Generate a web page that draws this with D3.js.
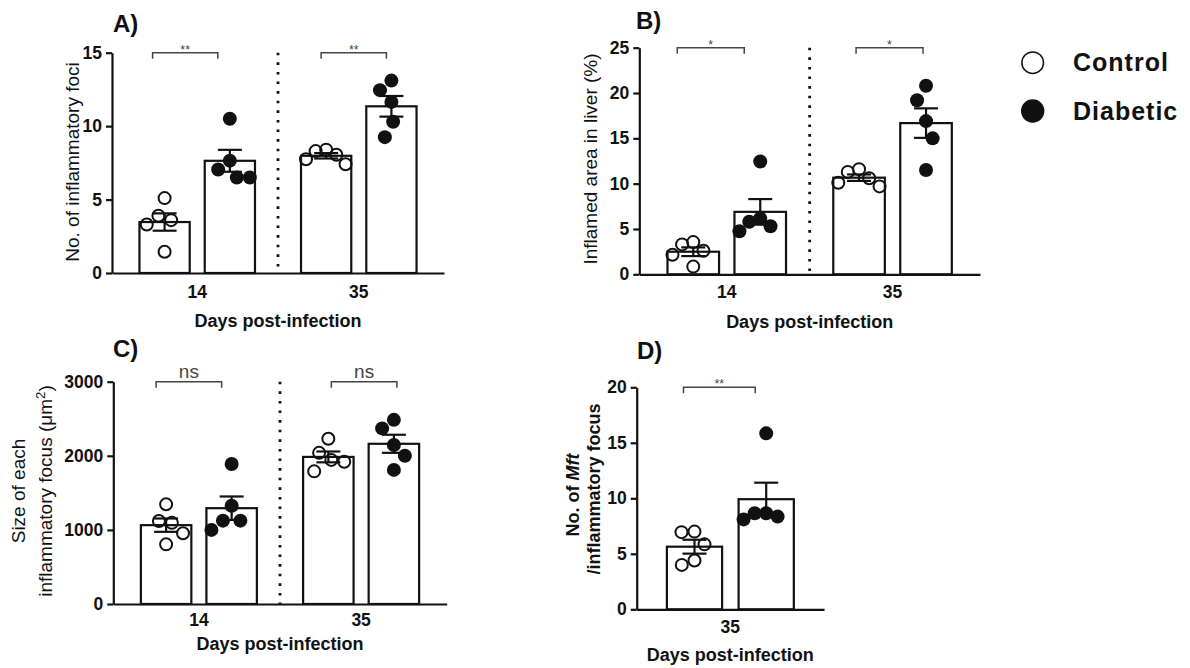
<!DOCTYPE html>
<html>
<head>
<meta charset="utf-8">
<script src="https://cdn.jsdelivr.net/npm/d3@7"></script>
<style>
  body { margin: 0; background: #fff; }
  svg { display: block; font-family: "Liberation Sans", Arial, sans-serif; }
</style>
</head>
<body>
<svg id="fig" width="1190" height="668"></svg>
<script>
// ---- data -------------------------------------------------------------
const days = ["14", "35"];
const daysLate = ["35"];
const groups = ["Control", "Diabetic"];

// A) number of inflammatory foci, per mouse
const fociControl  = [[5.1, 3.6, 3.3, 3.9, 1.45], [8.4, 8.05, 7.4, 7.75, 8.3]];
const fociDiabetic = [[10.5, 7.05, 6.5, 6.5, 7.65], [13.1, 12.45, 11.65, 10.3, 9.25]];
const fociTicks = [0, 5, 10, 15];

// B) inflamed area in liver (%)
const areaControl  = [[3.55, 3.3, 2.6, 2.15, 0.85], [11.6, 11.3, 10.6, 10.1, 9.7]];
const areaDiabetic = [[12.45, 5.8, 4.75, 5.3, 6.15], [20.8, 19.2, 16.9, 15.0, 11.5]];
const areaTicks = [0, 5, 10, 15, 20, 25];

// C) size of each inflammatory focus (µm²)
const sizeControl  = [[1345, 1120, 1095, 955, 805], [2230, 2040, 1945, 1920, 1790]];
const sizeDiabetic = [[1890, 1325, 1125, 1125, 1000], [2485, 2370, 2145, 2000, 1810]];
const sizeTicks = [0, 1000, 2000, 3000];

// D) Mft per inflammatory focus
const mftControl  = [[6.95, 7.0, 5.85, 4.0, 4.4]];
const mftDiabetic = [[15.85, 8.65, 8.1, 8.35, 8.65]];
const mftTicks = [0, 5, 10, 15, 20];

const sigA = ["**", "**"];
const sigB = ["*", "*"];
const sigC = ["ns", "ns"];
const sigD = ["**"];

// ---- drawing ----------------------------------------------------------
const svg = d3.select("#fig");
const INK = "#111";
const GREY = "#444";

// horizontal spread of dots: values that would collide are pushed sideways,
// alternating left/right, then squeezed to stay inside the bar
function spread(vals, y, limit) {
  const DX = 13, DY = 20;
  const order = d3.range(vals.length).sort((a, b) => vals[b] - vals[a]);
  const placed = [];
  const dx = new Array(vals.length).fill(0);
  let lastSide = 1;
  const hits = (c, py) => placed.some(p => {
    const ey = (p.y - py) / DY, ex = (p.x - c) / DX;
    return ex * ex + ey * ey < 0.999;
  });
  for (const i of order) {
    const py = y(vals[i]);
    const cands = [0];
    for (const p of placed) {
      const d = Math.abs(p.y - py);
      if (d < DY) {
        const need = DX * Math.sqrt(1 - (d / DY) * (d / DY)) + 0.01;
        cands.push(p.x + need, p.x - need);
      }
    }
    const ok = cands.filter(c => !hits(c, py));
    ok.sort((a, b) => {
      const da = Math.round(Math.abs(a) * 2), db = Math.round(Math.abs(b) * 2);
      if (da !== db) return da - db;
      return (Math.sign(a) === -lastSide ? -1 : 1) - (Math.sign(b) === -lastSide ? -1 : 1);
    });
    const x = ok[0];
    if (x !== 0) lastSide = Math.sign(x);
    dx[i] = x;
    placed.push({ x, y: py });
  }
  const widest = d3.max(dx, Math.abs);
  const k = widest > limit ? limit / widest : 1;
  return dx.map(v => v * k);
}

function panel(cfg) {
  const g = svg.append("g");
  const y = d3.scaleLinear().domain([0, d3.max(cfg.ticks)]).range([cfg.y0, cfg.y1]);
  const xg = d3.scaleBand().domain(cfg.cats).range([cfg.x0, cfg.x1])
    .paddingInner(0.285).paddingOuter(0.17);
  const xs = d3.scaleBand().domain(groups).range([0, xg.bandwidth()]).paddingInner(0.23);
  const bw = xs.bandwidth();

  // dotted separator between time points
  if (cfg.cats.length > 1) {
    const xm = (xg(cfg.cats[0]) + xg.bandwidth() + xg(cfg.cats[1])) / 2;
    g.append("line").attr("x1", xm).attr("x2", xm)
      .attr("y1", y(d3.max(cfg.ticks))).attr("y2", cfg.y0)
      .attr("stroke", INK).attr("stroke-width", 2.8)
      .attr("stroke-dasharray", "2.6 7");
  }

  cfg.cats.forEach((cat, ci) => {
    const sets = [cfg.control[ci], cfg.diabetic[ci]];
    sets.forEach((vals, si) => {
      const left = xg(cat) + xs(groups[si]);
      const cx = left + bw / 2;
      const m = d3.mean(vals);
      const sem = d3.deviation(vals) / Math.sqrt(vals.length);

      g.append("rect")
        .attr("x", left).attr("width", bw)
        .attr("y", y(m)).attr("height", cfg.y0 - y(m))
        .attr("fill", "#fff").attr("stroke", INK).attr("stroke-width", 2.2);

      const dx = spread(vals, y, bw / 2 - 5);
      g.selectAll(null).data(vals).join("circle")
        .attr("cx", (d, i) => cx + dx[i])
        .attr("cy", d => y(d))
        .attr("r", si === 0 ? 6 : 7)
        .attr("fill", si === 0 ? "#fff" : INK)
        .attr("fill-opacity", si === 0 ? 0 : 1)
        .attr("stroke", INK).attr("stroke-width", si === 0 ? 2 : 0);

      // mean ± SEM
      const cap = 12;
      const eb = g.append("g").attr("stroke", INK).attr("stroke-width", 2.2);
      eb.append("line").attr("x1", cx).attr("x2", cx).attr("y1", y(m - sem)).attr("y2", y(m + sem));
      eb.append("line").attr("x1", cx - cap).attr("x2", cx + cap).attr("y1", y(m + sem)).attr("y2", y(m + sem));
      eb.append("line").attr("x1", cx - cap).attr("x2", cx + cap).attr("y1", y(m - sem)).attr("y2", y(m - sem));
    });

    // significance bracket
    const shift = cfg.shift[ci];
    const bx1 = xg(cat) + xs(groups[0]) + bw / 2 + shift;
    const bx2 = xg(cat) + xs(groups[1]) + bw / 2 + shift;
    const by = y(d3.max(cfg.ticks));
    g.append("path")
      .attr("d", `M${bx1},${by + 6}V${by}H${bx2}V${by + 6}`)
      .attr("fill", "none").attr("stroke", GREY).attr("stroke-width", 1.5);
    const ns = cfg.sig[ci] === "ns";
    g.append("text")
      .attr("x", (bx1 + bx2) / 2).attr("y", ns ? by - 4 : by + 1)
      .attr("text-anchor", "middle")
      .attr("font-size", ns ? 19 : 12.5)
      .attr("fill", GREY)
      .text(cfg.sig[ci]);
  });

  // axes
  const ya = g.append("g").attr("transform", `translate(${cfg.x0},0)`)
    .call(d3.axisLeft(y).tickValues(cfg.ticks).tickFormat(d3.format("d"))
      .tickSize(6).tickSizeOuter(0).tickPadding(4));
  const xa = g.append("g").attr("transform", `translate(0,${cfg.y0})`)
    .call(d3.axisBottom(xg).tickSize(0).tickSizeOuter(0).tickPadding(cfg.labelPad));
  [ya, xa].forEach(a => {
    a.select(".domain").attr("stroke", INK).attr("stroke-width", 2.2);
    a.selectAll(".tick line").attr("stroke", INK).attr("stroke-width", 2.2);
    a.selectAll(".tick text").attr("fill", INK)
      .attr("font-family", "Liberation Sans, Arial, sans-serif")
      .attr("font-size", 17.5).attr("font-weight", "bold");
  });

  // x title
  g.append("text")
    .attr("x", (cfg.x0 + cfg.x1) / 2).attr("y", cfg.titleY)
    .attr("text-anchor", "middle").attr("font-size", 18).attr("font-weight", "bold")
    .attr("fill", INK).text("Days post-infection");

  // panel letter
  g.append("text")
    .attr("x", cfg.letterX).attr("y", cfg.letterY)
    .attr("font-size", 24).attr("font-weight", "bold").attr("fill", INK)
    .text(cfg.letter);

  return g;
}

function yTitle(g, lines, opts) {
  lines.forEach(ln => {
    const t = g.append("text")
      .attr("transform", `translate(${ln.x},${ln.y}) rotate(-90)`)
      .attr("text-anchor", "middle").attr("dy", "0.35em")
      .attr("font-size", opts.size).attr("font-weight", opts.weight)
      .attr("fill", INK);
    ln.parts.forEach(p => {
      const s = t.append("tspan").text(p.t);
      if (p.italic) s.attr("font-style", "italic");
      if (p.sup) s.attr("dy", -7).attr("font-size", opts.size * 0.7);
      if (p.unsup) s.attr("dy", 7);
    });
  });
}

const gA = panel({
  letter: "A)", letterX: 113, letterY: 32,
  cats: days, control: fociControl, diabetic: fociDiabetic, ticks: fociTicks, sig: sigA,
  x0: 112, x1: 444, y0: 273, y1: 52.7, labelPad: 13, titleY: 327, shift: [-12, -5]
});
yTitle(gA, [{ x: 72, y: 162, parts: [{ t: "No. of inflammatory foci" }] }],
  { size: 19, weight: "normal" });

const gB = panel({
  letter: "B)", letterX: 636, letterY: 29,
  cats: days, control: areaControl, diabetic: areaDiabetic, ticks: areaTicks, sig: sigB,
  x0: 639.3, x1: 980, y0: 274.3, y1: 47.7, labelPad: 11, titleY: 328, shift: [-16, -3]
});
yTitle(gB, [{ x: 590, y: 159, parts: [{ t: "Inflamed area in liver (%)" }] }],
  { size: 19, weight: "normal" });

const gC = panel({
  letter: "C)", letterX: 113, letterY: 357,
  cats: days, control: sizeControl, diabetic: sizeDiabetic, ticks: sizeTicks, sig: sigC,
  x0: 113.3, x1: 446.7, y0: 604, y1: 381.7, labelPad: 9.5, titleY: 650, shift: [-10, 3]
});
yTitle(gC, [
  { x: 18, y: 491, parts: [{ t: "Size of each" }] },
  { x: 45, y: 491, parts: [{ t: "inflammatory focus (μm" }, { t: "2", sup: true }, { t: ")", unsup: true }] }
], { size: 19, weight: "normal" });

const gD = panel({
  letter: "D)", letterX: 637, letterY: 359,
  cats: daysLate, control: mftControl, diabetic: mftDiabetic, ticks: mftTicks, sig: sigD,
  x0: 636.7, x1: 824, y0: 609.3, y1: 387.3, labelPad: 11, titleY: 661, shift: [-11]
});
yTitle(gD, [
  { x: 573, y: 495, parts: [{ t: "No. of " }, { t: "Mft", italic: true }] },
  { x: 594, y: 489, parts: [{ t: "/inflammatory focus" }] }
], { size: 18, weight: "bold" });

// legend
const leg = svg.append("g");
groups.forEach((name, i) => {
  const cy = i === 0 ? 62.7 : 111;
  leg.append("circle").attr("cx", 1032.7).attr("cy", cy).attr("r", i === 0 ? 10.8 : 11.7)
    .attr("fill", i === 0 ? "#fff" : INK).attr("stroke", INK).attr("stroke-width", i === 0 ? 1.5 : 0);
  leg.append("text").attr("x", 1073).attr("y", cy + 8.5)
    .attr("font-size", 25).attr("font-weight", "bold").attr("letter-spacing", 1)
    .attr("fill", INK).text(name);
});
</script>
</body>
</html>
